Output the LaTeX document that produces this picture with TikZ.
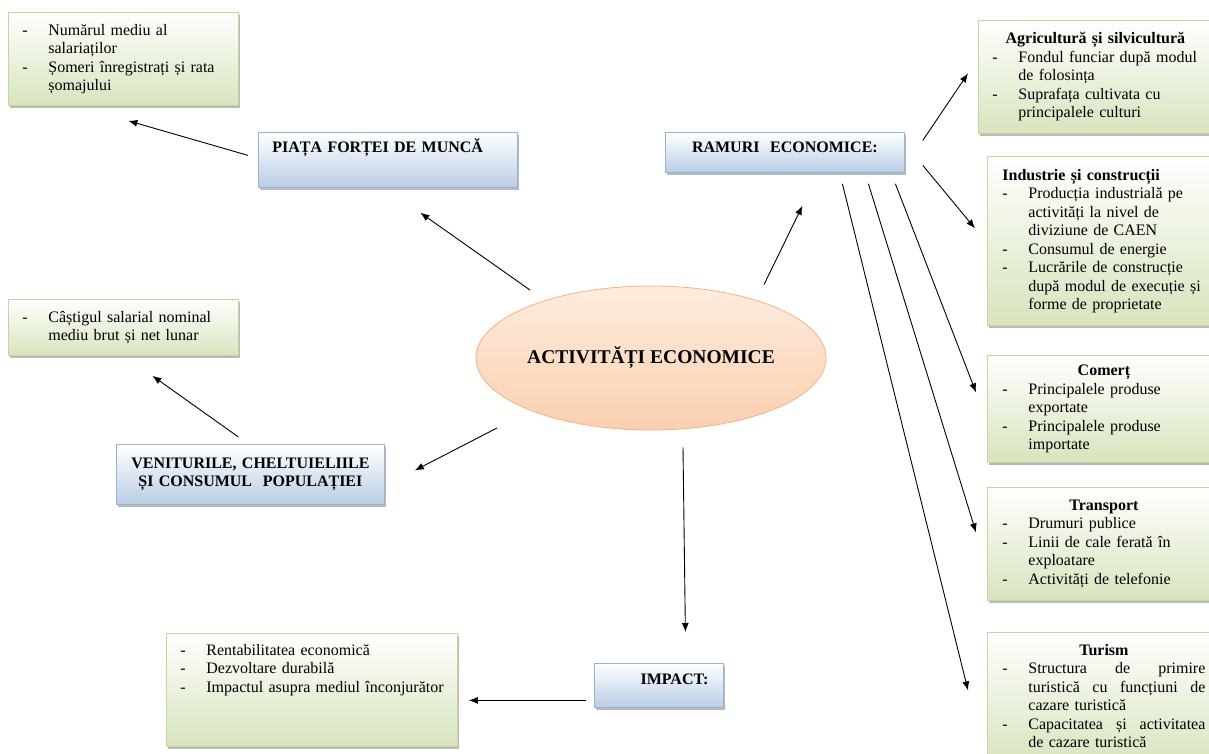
\documentclass[tikz,border=0pt]{standalone}
\usepackage{fontspec}
\setmainfont{Liberation Serif}
\usetikzlibrary{arrows.meta,shapes.geometric,shadows}

\definecolor{gfill}{RGB}{215,228,189}
\definecolor{gline}{RGB}{195,214,155}
\definecolor{bfill}{RGB}{185,205,229}
\definecolor{bline}{RGB}{149,179,215}
\definecolor{etop}{RGB}{253,236,222}
\definecolor{ebot}{RGB}{250,207,176}
\definecolor{eline}{RGB}{245,178,130}

\newcommand{\itm}{\makebox[26pt][l]{-}}
\newcommand{\cnt}{\hspace*{26pt}}

\tikzset{
  boxfont/.style={font=\fontsize{16}{18.5}\selectfont},
  gbox/.style={boxfont, draw=gline, line width=0.8pt, top color=white, bottom color=gfill,
    anchor=north west, inner xsep=14pt, inner ysep=0pt, align=left,
    drop shadow={shadow xshift=1.5pt, shadow yshift=-2.5pt, fill=black!60, opacity=.45}},
  bbox/.style={gbox, draw=bline, bottom color=bfill, font=\fontsize{16}{18.5}\selectfont\bfseries},
  ell/.style={ellipse, draw=eline, line width=0.8pt, top color=etop, bottom color=ebot,
    minimum width=338pt, minimum height=144pt, inner sep=0pt, font=\fontsize{19.5}{22}\selectfont\bfseries},
  arr/.style={-{Latex[length=9pt,width=7pt]}, line width=0.9pt},
}

\begin{document}
\begin{tikzpicture}[x=1pt,y=-1pt]
  \useasboundingbox (0,0) rectangle (1209,753);
  \fill[white] (0,0) rectangle (1209,753);
  \clip (0,0) rectangle (1209,753);

  % left side
  \node[gbox, text width=202pt, minimum height=93pt] (ocupare) at (8,12)
    {\itm Numărul mediu al\\ \cnt salariaților\\ \itm Șomeri înregistrați și rata\\ \cnt șomajului};
  \node[bbox, text width=231pt, minimum height=55pt, text height=11pt, text depth=25pt] (piata) at (258,132)
    {PIAȚA FORȚEI DE MUNCĂ};
  \node[gbox, text width=202pt, minimum height=56pt] (castig) at (8,299)
    {\itm Câștigul salarial nominal\\ \cnt mediu brut și net lunar};
  \node[bbox, align=center, text width=248pt, inner xsep=10pt, minimum height=60pt] (venit) at (116,444)
    {VENITURILE, CHELTUIELIILE\\ ȘI CONSUMUL~~POPULAȚIEI};

  % centre
  \node[ell] (activ) at (651,358) {ACTIVITĂȚI ECONOMICE};
  \node[bbox, align=center, text width=211pt, minimum height=40pt, text height=11pt, text depth=10pt] (ramuri) at (665,132)
    {RAMURI~~ECONOMICE:};
  \node[bbox, align=right, text width=99pt, inner xsep=15pt, minimum height=44pt, text height=11pt, text depth=12pt] (impact) at (594,663)
    {IMPACT:};
  \node[gbox, text width=263pt, minimum height=113pt, text height=11pt, text depth=80pt] (efecte) at (166,633)
    {\itm Rentabilitatea economică\\ \itm Dezvoltare durabilă\\ \itm\mbox{Impactul asupra mediul înconjurător}};

  % right side
  \node[gbox, text width=206pt, minimum height=113pt] (agri) at (978,20)
    {\makebox[\linewidth]{\textbf{Agricultură și silvicultură}}\\
     \itm Fondul funciar după modul\\ \cnt de folosința\\
     \itm Suprafața cultivata cu\\ \cnt principalele culturi};
  \node[gbox, text width=203pt, inner xsep=15pt, minimum height=169pt] (industrie) at (987,156)
    {\textbf{Industrie și construcții}\\
     \itm Producția industrială pe\\ \cnt activități la nivel de\\ \cnt diviziune de CAEN\\
     \itm Consumul de energie\\
     \itm Lucrările de construcție\\ \cnt după modul de execuție și\\ \cnt forme de proprietate};
  \node[gbox, text width=203pt, inner xsep=15pt, minimum height=107pt] (comert) at (987,355)
    {\makebox[\linewidth]{\textbf{Comerț}}\\
     \itm Principalele produse\\ \cnt exportate\\
     \itm Principalele produse\\ \cnt importate};
  \node[gbox, text width=203pt, inner xsep=15pt, minimum height=113pt] (transport) at (987,487)
    {\makebox[\linewidth]{\textbf{Transport}}\\
     \itm Drumuri publice\\
     \itm Linii de cale ferată în\\ \cnt exploatare\\
     \itm Activități de telefonie};
  \node[gbox, text width=203pt, inner xsep=15pt, minimum height=133pt, text height=11pt, text depth=98pt] (turism) at (987,632)
    {\makebox[\linewidth]{\textbf{Turism}}\\
     \itm\makebox[177pt][l]{Structura\hfill de\hfill primire}\\
     \cnt\makebox[177pt][l]{turistică\hfill cu\hfill funcțiuni\hfill de}\\
     \cnt cazare turistică\\
     \itm\makebox[177pt][l]{Capacitatea\hfill și\hfill activitatea}\\
     \cnt de cazare turistică};

  % connectors
  \draw[arr] ([xshift=-10pt,yshift=4.5pt]piata.west) -- ([xshift=5pt,yshift=-15pt]ocupare.south);
  \draw[arr] ([xshift=-121pt,yshift=68pt]activ.center) -- ([xshift=32.5pt,yshift=-25pt]piata.south);
  \draw[arr] ([xshift=-12pt,yshift=7pt]venit.north) -- ([xshift=29pt,yshift=-20pt]castig.south);
  \draw[arr] ([xshift=-154pt,yshift=-70pt]activ.center) -- ([xshift=30pt,yshift=4pt]venit.east);
  \draw[arr] ([xshift=32pt,yshift=-17pt]activ.south) -- ([xshift=26.5pt,yshift=31pt]impact.north);
  \draw[arr] ([xshift=-8pt,yshift=-15pt]impact.west) -- ([xshift=11pt,yshift=-10.5pt]efecte.east);
  \draw[arr] ([xshift=113pt,yshift=1pt]activ.north) -- ([xshift=17.5pt,yshift=-33pt]ramuri.south);
  \draw[arr] ([xshift=18pt,yshift=12pt]ramuri.east) -- ([xshift=-10pt,yshift=3.5pt]agri.west);
  \draw[arr] ([xshift=18pt,yshift=-13pt]ramuri.east) -- ([xshift=-12pt,yshift=12.5pt]industrie.west);
  \draw[arr] ([xshift=110.5pt,yshift=-11pt]ramuri.south) -- ([xshift=-11pt,yshift=16.5pt]comert.west);
  \draw[arr] ([xshift=83.5pt,yshift=-11pt]ramuri.south) -- ([xshift=-11pt,yshift=11.5pt]transport.west);
  \draw[arr] ([xshift=57.5pt,yshift=-11pt]ramuri.south) -- ([xshift=-19pt,yshift=8.5pt]turism.west);
\end{tikzpicture}
\end{document}
